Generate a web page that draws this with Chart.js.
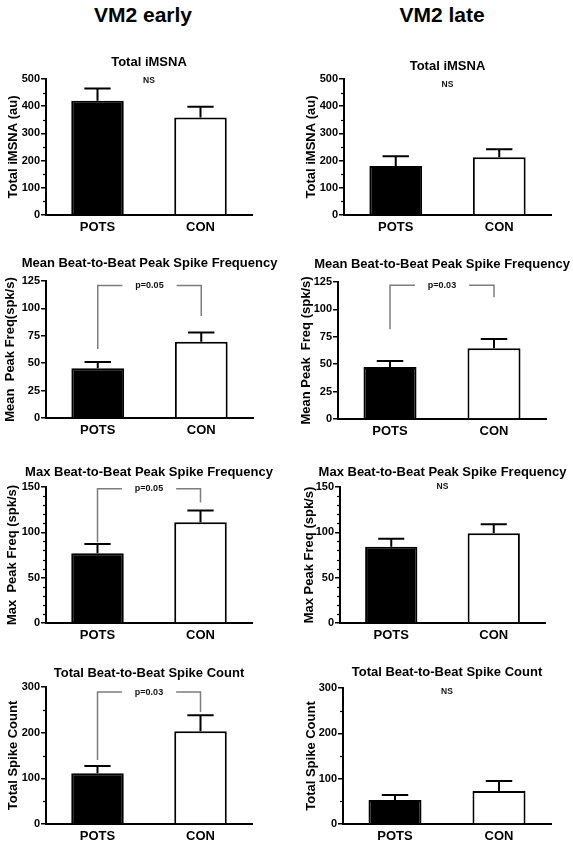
<!DOCTYPE html>
<html><head><meta charset="utf-8">
<script src="https://cdn.jsdelivr.net/npm/chart.js@4"></script>
<style>
body{margin:0;width:573px;height:846px;background:#fff;position:relative;overflow:hidden;font-family:'Liberation Sans',Arial,sans-serif}
.hdr{position:absolute;top:2px;font-weight:bold;font-size:21px;line-height:26px;transform:translateX(-50%);white-space:nowrap;color:#000}
canvas{position:absolute}
</style></head><body>
<div class="hdr" style="left:143px">VM2 early</div>
<div class="hdr" style="left:442px">VM2 late</div>
<script>
// ---- data ----
const groups = ['POTS', 'CON'];
const panelTitles = ['Total iMSNA', 'Total iMSNA',
  'Mean Beat-to-Beat Peak Spike Frequency', 'Mean Beat-to-Beat Peak Spike Frequency',
  'Max Beat-to-Beat Peak Spike Frequency', 'Max Beat-to-Beat Peak Spike Frequency',
  'Total Beat-to-Beat Spike Count', 'Total Beat-to-Beat Spike Count'];
const yTitles = ['Total iMSNA (au)', 'Total iMSNA (au)',
  'Mean  Peak Freq(spk/s)', 'Mean Peak  Freq (spk/s)',
  'Max  Peak Freq (spk/s)', 'Max Peak Freq (spk/s)',
  'Total Spike Count', 'Total Spike Count'];
const yMax = [500, 500, 125, 125, 150, 150, 300, 300];
const yStep = [100, 100, 25, 25, 50, 50, 100, 100];
const yMinorStep = [50, 50, null, null, 10, 10, 50, 50];
const meanVals = [[420, 358], [180, 212], [45.5, 69.5], [47.5, 64.5], [77, 111], [84, 99], [111, 203], [53, 73]];
const semVals = [[45, 40], [36, 30], [5.5, 8.5], [5.5, 8.5], [10, 13], [9, 10], [16, 35], [11, 22]];
const sigLabels = ['NS', 'NS', 'p=0.05', 'p=0.03', 'p=0.05', 'NS', 'p=0.03', 'NS'];
const sigLabelY = [493, 478, 121, 122, 148, 150, 289, 291];
const bracketLeftLow = [null, null, 63, 82, 89, null, 140, null];
const bracketRightLow = [null, null, 93, 111, 133, null, 245, null];

// ---- layout (absolute px) ----
const layouts = [
  {cx:0,  cy:40,  w:283, h:205, axisX:46,  right:252, top:79,  bottom:215, titleY:62,  yTitleX:13},
  {cx:283,cy:40,  w:290, h:205, axisX:344, right:551, top:79,  bottom:215, titleY:66,  yTitleX:311},
  {cx:0,  cy:245, w:283, h:205, axisX:46,  right:253, top:281, bottom:418, titleY:263, yTitleX:10},
  {cx:283,cy:245, w:290, h:205, axisX:338, right:546, top:282, bottom:419, titleY:264, yTitleX:306},
  {cx:0,  cy:450, w:283, h:200, axisX:46,  right:252, top:487, bottom:623, titleY:472, yTitleX:12},
  {cx:283,cy:450, w:290, h:200, axisX:340, right:545, top:487, bottom:623, titleY:472, yTitleX:309},
  {cx:0,  cy:650, w:283, h:196, axisX:46,  right:252, top:687, bottom:824, titleY:673, yTitleX:13},
  {cx:283,cy:650, w:290, h:196, axisX:343, right:551, top:688, bottom:824, titleY:672, yTitleX:311}
];
const FONT = "'Liberation Sans', Arial, sans-serif";
const X_H = 22;

const annotPlugin = {
  id: 'annot',
  afterDatasetsDraw(chart, args, opts) {
    const i = opts.idx, L = layouts[i];
    const ctx = chart.ctx, xs = chart.scales.x, ys = chart.scales.y, ca = chart.chartArea;
    ctx.save();
    // minor ticks
    if (yMinorStep[i]) {
      ctx.strokeStyle = '#000'; ctx.lineWidth = 1.2;
      for (let v = yMinorStep[i]; v < yMax[i]; v += yMinorStep[i]) {
        if (Math.abs(v / yStep[i] - Math.round(v / yStep[i])) < 1e-6) continue;
        const py = Math.round(ys.getPixelForValue(v)) + 0.5;
        ctx.beginPath(); ctx.moveTo(ca.left - 3, py); ctx.lineTo(ca.left, py); ctx.stroke();
      }
    }
    // error bars
    const meta = chart.getDatasetMeta(0);
    ctx.strokeStyle = '#000'; ctx.lineWidth = 2;
    meta.data.forEach((el, k) => {
      const yTop = ys.getPixelForValue(meanVals[i][k] + semVals[i][k]);
      const half = el.width * 0.25;
      ctx.beginPath();
      ctx.moveTo(el.x, el.y); ctx.lineTo(el.x, yTop);
      ctx.moveTo(el.x - half, yTop); ctx.lineTo(el.x + half, yTop);
      ctx.stroke();
    });
    // significance
    const xL = xs.getPixelForValue(0), xR = xs.getPixelForValue(1), mid = (xL + xR) / 2;
    const ly = ys.getPixelForValue(sigLabelY[i]);
    if (bracketLeftLow[i] !== null) {
      ctx.font = 'bold 9px ' + FONT;
      const tw = ctx.measureText(sigLabels[i]).width;
      ctx.strokeStyle = '#7d7d7d'; ctx.lineWidth = 1.5;
      ctx.beginPath();
      ctx.moveTo(xL, ys.getPixelForValue(bracketLeftLow[i])); ctx.lineTo(xL, ly); ctx.lineTo(mid - tw / 2 - 13, ly);
      ctx.moveTo(mid + tw / 2 + 13, ly); ctx.lineTo(xR, ly); ctx.lineTo(xR, ys.getPixelForValue(bracketRightLow[i]));
      ctx.stroke();
      ctx.fillStyle = '#111'; ctx.textAlign = 'center'; ctx.textBaseline = 'middle';
      ctx.fillText(sigLabels[i], mid, ly);
    } else {
      ctx.font = 'bold 8.5px ' + FONT;
      ctx.fillStyle = '#111'; ctx.textAlign = 'center'; ctx.textBaseline = 'middle';
      ctx.fillText(sigLabels[i], mid, ly);
    }
    // panel title
    ctx.font = 'bold 13px ' + FONT;
    ctx.fillStyle = '#000'; ctx.textAlign = 'center'; ctx.textBaseline = 'middle';
    ctx.fillText(panelTitles[i], (ca.left + ca.right) / 2, L.titleY - L.cy);
    ctx.restore();
  }
};

layouts.forEach((L, i) => {
  const cv = document.createElement('canvas');
  cv.width = L.w; cv.height = L.h;
  cv.style.left = L.cx + 'px'; cv.style.top = L.cy + 'px';
  cv.style.width = L.w + 'px'; cv.style.height = L.h + 'px';
  document.body.appendChild(cv);
  new Chart(cv.getContext('2d'), {
    type: 'bar',
    data: {
      labels: groups,
      datasets: [{
        data: meanVals[i],
        backgroundColor: ['#000', '#fff'],
        borderColor: '#000',
        borderWidth: 2,
        borderSkipped: 'start',
        barPercentage: 0.51,
        categoryPercentage: 1
      }]
    },
    options: {
      responsive: false,
      devicePixelRatio: 1,
      animation: false,
      layout: { padding: { top: L.top - L.cy, left: 0, right: L.cx + L.w - L.right, bottom: L.cy + L.h - L.bottom - X_H } },
      plugins: { legend: { display: false }, tooltip: { enabled: false }, title: { display: false }, annot: { idx: i } },
      scales: {
        x: {
          afterFit(s) { s.height = X_H; },
          grid: { display: true, drawOnChartArea: false, drawTicks: false },
          border: { display: true, color: '#000', width: 2 },
          ticks: { color: '#000', padding: 5, font: { family: FONT, size: 13, weight: 'bold' } }
        },
        y: {
          min: 0, max: yMax[i],
          afterFit(s) { s.width = L.axisX - L.cx; },
          grid: { drawOnChartArea: false, drawTicks: true, tickLength: 5, color: '#000', lineWidth: 1.5 },
          border: { display: true, color: '#000', width: 2 },
          ticks: { stepSize: yStep[i], color: '#000', padding: 1, font: { family: FONT, size: 11, weight: 'bold' } },
          title: { display: true, text: yTitles[i], color: '#000', padding: { top: L.yTitleX - L.cx - 7.8, bottom: 0 }, font: { family: FONT, size: 13, weight: 'bold' } }
        }
      }
    },
    plugins: [annotPlugin]
  });
});
</script>
</body></html>
